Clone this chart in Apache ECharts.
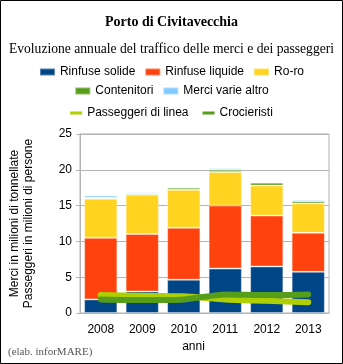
<!DOCTYPE html>
<html><head><meta charset="utf-8">
<script src="https://cdn.jsdelivr.net/npm/echarts@6/dist/echarts.min.js"></script>
<style>html,body{margin:0;padding:0;background:#fff}#c{width:343px;height:364px}</style>
</head><body><div id="c"></div>
<script>
var years = ['2008','2009','2010','2011','2012','2013'];
var rinfuseSolide   = [1.9, 3.0, 4.65, 6.2, 6.5, 5.75];
var rinfuseLiquide  = [8.6, 8.05, 7.25, 8.8, 7.1, 5.45];
var roro            = [5.45, 5.45, 5.3, 4.7, 4.2, 4.1];
var contenitori     = [0.15, 0.2, 0.3, 0.3, 0.4, 0.3];
var merciVarie      = [0.3, 0.15, 0.1, 0.2, 0.1, 0.2];
var passeggeriLinea = [2.5, 2.4, 2.35, 1.9, 1.7, 1.5];
var crocieristi     = [1.9, 1.8, 1.9, 2.6, 2.5, 2.6];

var sans = 'Liberation Sans, Arial, sans-serif';
var serif = 'Liberation Serif, Times New Roman, serif';
var chart = echarts.init(document.getElementById('c'));
function bar(name, data, color){
  return {name:name, type:'bar', stack:'m', data:data, barCategoryGap:'20%',
    itemStyle:{color:color, borderColor:'rgba(255,255,255,0.35)', borderWidth:1}, animation:false};
}
function line(name, data, color){
  return {name:name, type:'line', data:data, symbol:'none', smooth:0.2, z:5,
    lineStyle:{color:color, width:6, cap:'round', join:'round'}, itemStyle:{color:color}, animation:false};
}
chart.setOption({
  animation:false,
  backgroundColor:'#fff',
  title:[
    {text:'Porto di Civitavecchia', left:'center', top:10, textStyle:{fontFamily:serif, fontSize:14, fontWeight:'bold', color:'#000'}},
    {text:'Evoluzione annuale del traffico delle merci e dei passeggeri', left:'center', top:37, textStyle:{fontFamily:serif, fontSize:13.6, fontWeight:'normal', color:'#000'}}
  ],
  legend:[
    {data:['Rinfuse solide','Rinfuse liquide','Ro-ro'], top:61, left:'center', itemWidth:15, itemHeight:7, itemGap:9, icon:'rect', textStyle:{fontFamily:sans, fontSize:12, color:'#000'}},
    {data:['Contenitori','Merci varie altro'], top:80, left:'center', itemWidth:15, itemHeight:7, itemGap:9, icon:'rect', textStyle:{fontFamily:sans, fontSize:12, color:'#000'}},
    {data:['Passeggeri di linea','Crocieristi'], top:102, left:'center', itemWidth:12, itemHeight:3, itemGap:14, icon:'rect', textStyle:{fontFamily:sans, fontSize:12, color:'#000'}}
  ],
  grid:{left:79, top:134, right:14, bottom:51, show:true, borderColor:'#b3b3b3', borderWidth:1},
  xAxis:{type:'category', data:years, name:'anni', nameLocation:'middle', nameGap:28,
    nameTextStyle:{fontFamily:sans, fontSize:12, color:'#000', padding:[0,22,0,0]},
    axisLine:{lineStyle:{color:'#b3b3b3'}}, axisTick:{length:5, lineStyle:{color:'#b3b3b3'}},
    axisLabel:{fontFamily:sans, fontSize:12, color:'#000', margin:11}},
  yAxis:{type:'value', min:0, max:25, interval:5,
    name:'Merci in milioni di tonnellate\nPasseggeri in milioni di persone', nameLocation:'middle', nameGap:44,
    nameTextStyle:{fontFamily:sans, fontSize:12, color:'#000', lineHeight:14},
    axisLine:{show:true, lineStyle:{color:'#b3b3b3'}}, axisTick:{show:true, length:4, lineStyle:{color:'#b3b3b3'}},
    splitLine:{lineStyle:{color:'#b3b3b3'}},
    axisLabel:{fontFamily:sans, fontSize:12, color:'#000', margin:8}},
  series:[
    bar('Rinfuse solide', rinfuseSolide, '#004586'),
    bar('Rinfuse liquide', rinfuseLiquide, '#ff420e'),
    bar('Ro-ro', roro, '#ffd320'),
    bar('Contenitori', contenitori, '#579d1c'),
    bar('Merci varie altro', merciVarie, '#83caff'),
    line('Passeggeri di linea', passeggeriLinea, '#aecf00'),
    line('Crocieristi', crocieristi, '#579d1c')
  ],
  graphic:[
    {type:'text', left:8, top:347, style:{text:'(elab. inforMARE)', font:'11px '+serif, fill:'#555'}},
    {type:'rect', shape:{x:0.5, y:0.5, width:342, height:363}, style:{fill:'none', stroke:'#000', lineWidth:1}, silent:true}
  ]
});
</script></body></html>
